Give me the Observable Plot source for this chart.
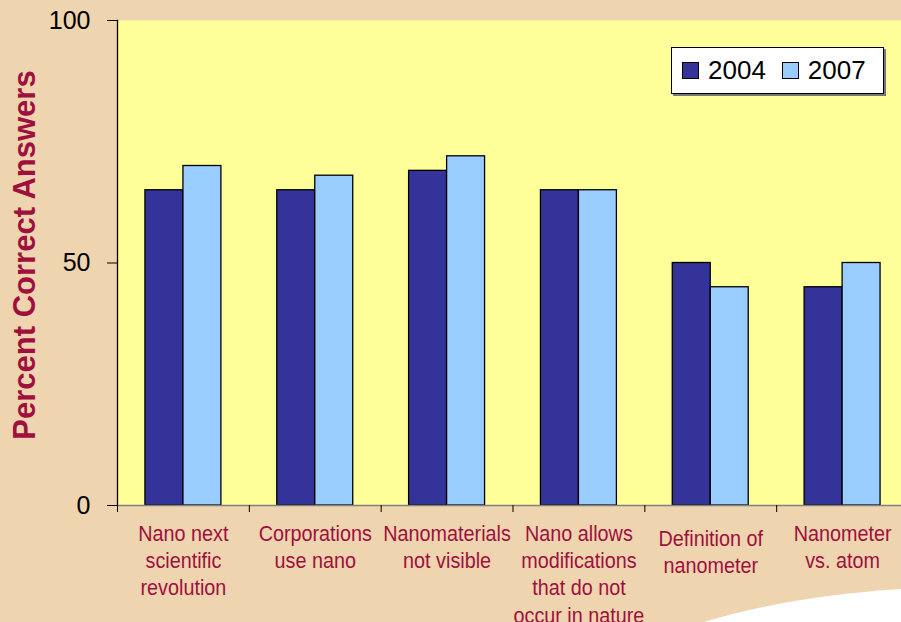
<!DOCTYPE html>
<html><head><meta charset="utf-8">
<script src="https://cdn.jsdelivr.net/npm/d3@7"></script>
<script src="https://cdn.jsdelivr.net/npm/@observablehq/plot@0.6"></script>
<style>
html,body{margin:0;padding:0;background:#EED4AF;overflow:hidden;}
#wrap{position:relative;width:901px;height:622px;overflow:hidden;}
#chart svg{display:block;max-width:none !important;width:908px;height:622px;}
#legend{position:absolute;left:671px;top:47px;width:211px;height:45px;background:#fff;border:1px solid #000;box-shadow:2px 2px 0 #777;font-family:"Liberation Sans",Arial,sans-serif;font-size:26px;display:flex;align-items:center;color:#000;}
#legend .sw{width:15px;height:15px;border:1px solid #000;margin-left:10px;margin-right:9px;}
#legend .it{display:flex;align-items:center;margin-right:6px;}
#deco{position:absolute;left:0;top:0;pointer-events:none;}
</style>
</head><body>
<div id="wrap"><div id="chart"></div><div id="legend"></div>
<svg id="deco" width="901" height="622"><path d="M704 622 Q790 596 901 589 L901 622 Z" fill="#ffffff"/></svg>
</div>
<script>
const categories = ["Nano next scientific revolution","Corporations use nano","Nanomaterials not visible","Nano allows modifications that do not occur in nature","Definition of nanometer","Nanometer vs. atom"];
const categoryLabels = ["Nano next\nscientific\nrevolution","Corporations\nuse nano","Nanomaterials\nnot visible","Nano allows\nmodifications\nthat do not\noccur in nature","Definition of\nnanometer","Nanometer\nvs. atom"];
const years = ["2004","2007"];
const values2004 = [65,65,69,65,50,45];
const values2007 = [70,68,72,65,45,50];
const yTicks = [0,50,100];
const colors = ["#333399","#99CCFF"];
const yTitle = "Percent Correct Answers";

const labelMap = new Map(categories.map((c,i)=>[c,categoryLabels[i]]));
const data2004 = categories.map((c,i)=>({category:c, year:years[0], value:values2004[i]}));
const data2007 = categories.map((c,i)=>({category:c, year:years[1], value:values2007[i]}));
const labelColor = "#A0103E";
const oddOne = categories[4];

const step = 791/categories.length;

const chart = Plot.plot({
  width: 908, height: 622,
  marginLeft: 117, marginRight: 0, marginTop: 20, marginBottom: 117,
  style: {background:"#EED4AF", fontFamily:"'Liberation Sans',Arial,sans-serif", overflow:"visible"},
  x: {domain: categories, paddingInner: 0.712, paddingOuter: 0.356, align: 0.5, round: false, axis: null},
  y: {domain: [0,100], axis: null},
  marks: [
    Plot.frame({fill:"#FFFF99", stroke:null}),
    Plot.barY(data2004, {x:"category", y:"value", fill: colors[0], stroke:"#000", strokeWidth:1.3, dx:-19}),
    Plot.barY(data2007, {x:"category", y:"value", fill: colors[1], stroke:"#000", strokeWidth:1.3, dx:19}),
    Plot.ruleY([0], {stroke:"#808080", strokeWidth:1.5}),
    Plot.frame({anchor:"left", stroke:"#000", strokeWidth:1.3}),
    Plot.axisY({ticks: yTicks, tickSize: 10, tickPadding: 17, fontSize: 25, fill:"#000", label: null, stroke:"#000"}),
    Plot.axisX({text: null, tickSize: 7, dx: -step/2, label: null, stroke:"#000"}),
    Plot.axisX({ticks: categories.filter(c=>c!==oddOne), tickSize: 0, tickPadding: 16, tickFormat: d=>labelMap.get(d), fontSize: 22, fill: labelColor, label: null, lineHeight: 1.24}),
    Plot.axisX({ticks: [oddOne], tickSize: 0, tickPadding: 16, dy: 5, tickFormat: d=>labelMap.get(d), fontSize: 22, fill: labelColor, label: null, lineHeight: 1.24}),
    Plot.text([yTitle], {frameAnchor:"left", dx:-92, dy:-8, rotate:-90, text: d=>d, fontSize: 31, fontWeight:"bold", fill: labelColor, textAnchor:"middle", lineAnchor:"middle"})
  ]
});
document.getElementById("chart").appendChild(chart);

// condense the category labels horizontally (narrow face not installed)
chart.querySelectorAll('g[aria-label="x-axis tick label"] text').forEach(t => {
  const tr = t.getAttribute("transform") || "";
  t.setAttribute("transform", tr + " scale(0.9,1)");
});

const legend = document.getElementById("legend");
years.forEach((y,i)=>{
  const it = document.createElement("div"); it.className="it";
  const sw = document.createElement("div"); sw.className="sw"; sw.style.background = colors[i];
  const tx = document.createElement("span"); tx.textContent = y;
  it.appendChild(sw); it.appendChild(tx); legend.appendChild(it);
});
</script>
</body></html>
